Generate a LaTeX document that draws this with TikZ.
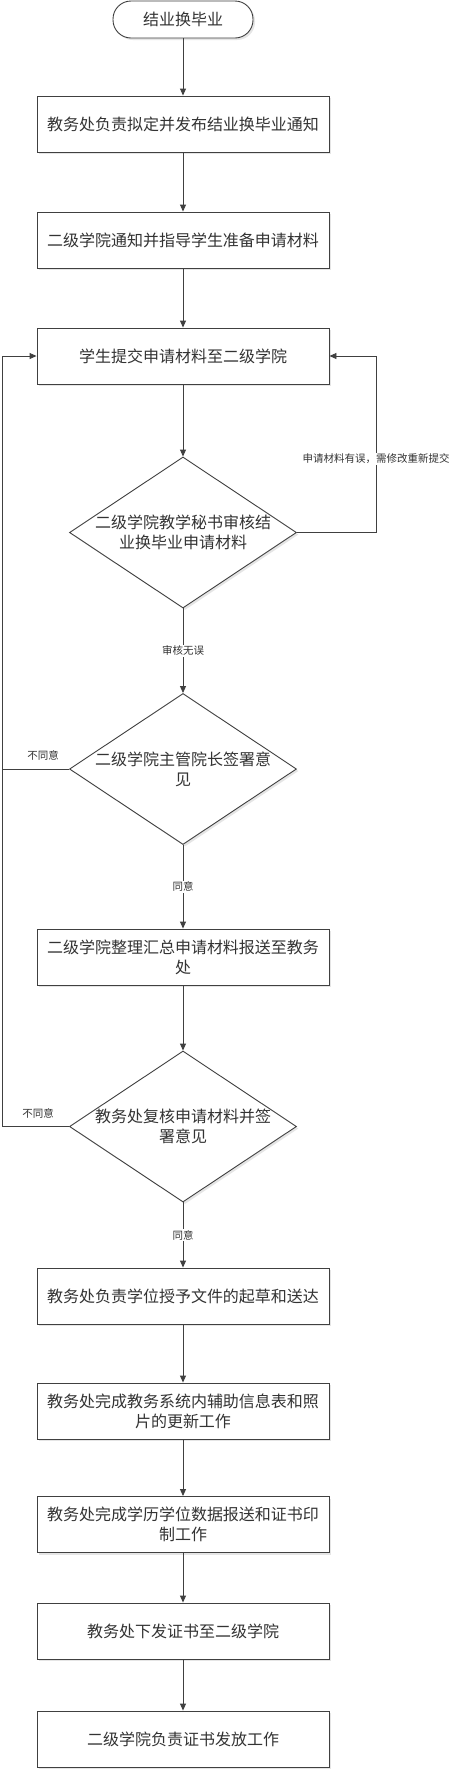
\documentclass[tikz,border=0pt]{standalone}
\usepackage{fontspec}
\setmainfont{Noto Sans CJK SC}
\usetikzlibrary{arrows.meta,shapes.geometric,shadows}
\definecolor{lc}{HTML}{404040}
\definecolor{tc}{HTML}{333333}
\begin{document}
\begin{tikzpicture}[x=1pt,y=-1pt,
  every node/.style={text=tc},
  sh/.style={drop shadow={shadow xshift=2pt,shadow yshift=-2pt,fill=black!10,opacity=1}},
  big/.style={font=\fontsize{16pt}{20pt}\selectfont},
  small/.style={font=\fontsize{10.5pt}{12pt}\selectfont},
  term/.style={draw=lc,line width=0.9pt,fill=white,rounded corners=18pt,minimum width=140pt,minimum height=37pt,big,sh},
  proc/.style={draw=lc,line width=0.9pt,fill=white,minimum width=292pt,minimum height=56pt,align=center,big,sh},
  dec/.style={draw=lc,line width=0.9pt,fill=white,diamond,minimum width=227pt,minimum height=151pt,inner sep=0pt,sh},
  dtext/.style={align=center,big,inner sep=0pt},
  lab/.style={small,fill=white,inner sep=1pt},
  conn/.style={draw=lc,line width=0.9pt,-{Triangle[length=7pt,width=6pt]}},
  line/.style={draw=lc,line width=0.9pt}]
\useasboundingbox (0,0) rectangle (451,1770);
\fill[white] (0,0) rectangle (451,1770);
\node[term] (s) at (183,19.5) {结业换毕业};
\node[proc] (b1) at (183,124) {教务处负责拟定并发布结业换毕业通知};
\node[proc] (b2) at (183,240) {二级学院通知并指导学生准备申请材料};
\node[proc] (b3) at (183,356) {学生提交申请材料至二级学院};
\node[dec] (d1) at (183,532.5) {};
\node[dtext] (t1) at (d1) {二级学院教学秘书审核结\\业换毕业申请材料};
\node[dec] (d2) at (183,769) {};
\node[dtext] (t2) at (d2) {二级学院主管院长签署意\\见};
\node[proc] (b4) at (183,957) {二级学院整理汇总申请材料报送至教务\\处};
\node[dec] (d3) at (183,1126.5) {};
\node[dtext] (t3) at (d3) {教务处复核申请材料并签\\署意见};
\node[proc] (b5) at (183,1296) {教务处负责学位授予文件的起草和送达};
\node[proc] (b6) at (183,1411) {教务处完成教务系统内辅助信息表和照\\片的更新工作};
\node[proc] (b7) at (183,1524.5) {教务处完成学历学位数据报送和证书印\\制工作};
\node[proc] (b8) at (183,1631) {教务处下发证书至二级学院};
\node[proc] (b9) at (183,1739) {二级学院负责证书发放工作};

\coordinate (R1) at (376,532.5);
\coordinate (R2) at (376,356);
\coordinate (L1) at (2,769);
\coordinate (L2) at (2,1126.5);
\coordinate (L3) at (2,356);

\draw[conn] (s) -- (b1);
\draw[conn] (b1) -- (b2);
\draw[conn] (b2) -- (b3);
\draw[conn] (b3) -- (d1);
\draw[conn] (d1) -- node[lab]{审核无误} (d2);
\draw[conn] (d2) -- node[lab]{同意} (b4);
\draw[conn] (b4) -- (d3);
\draw[conn] (d3) -- node[lab]{同意} (b5);
\draw[conn] (b5) -- (b6);
\draw[conn] (b6) -- (b7);
\draw[conn] (b7) -- (b8);
\draw[conn] (b8) -- (b9);

\draw[conn] (d1.east) -- (R1) -- node[lab,pos=0.416]{申请材料有误，需修改重新提交} (R2) -- (b3.east);
\draw[line] (d2.west) -- (L1);
\draw[conn] (d3.west) -- (L2) -- (L3) -- (b3.west);
\node[small] (n1) at (43,755) {不同意};
\node[small] (n2) at (38,1113) {不同意};
\end{tikzpicture}
\end{document}
